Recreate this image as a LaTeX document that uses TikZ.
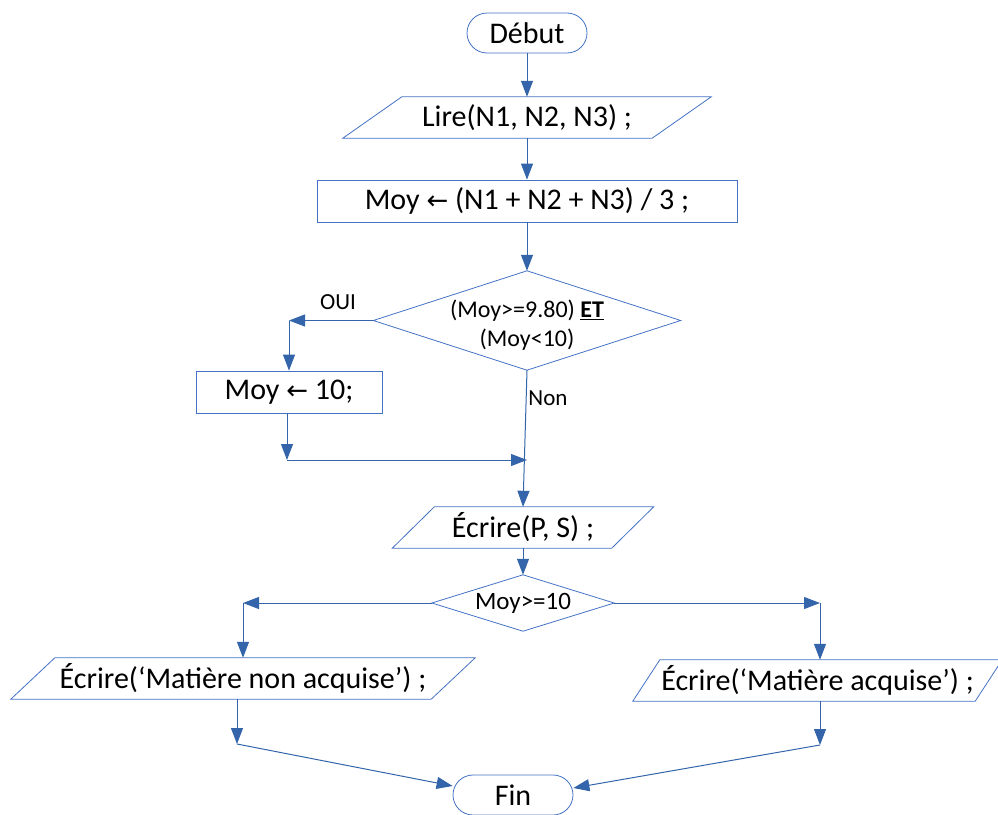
\documentclass[tikz,border=0pt]{standalone}
\usepackage{fontspec}
\setmainfont{Carlito}
\newfontfamily\arrowfont{DejaVu Sans}
\usetikzlibrary{arrows.meta}
\definecolor{ln}{RGB}{68,114,196}
\definecolor{ar}{RGB}{52,101,170}
\newcommand{\assignarrow}{{\arrowfont\fontsize{26}{30}\selectfont ←}}
\begin{document}
\begin{tikzpicture}[x=1pt,y=-1pt,
  outline/.style={draw=ln, line width=0.8pt},
  bigtxt/.style={inner sep=0pt, font=\fontsize{30}{34}\selectfont},
  midtxt/.style={inner sep=0pt, font=\fontsize{25}{29}\selectfont},
  smalltxt/.style={inner sep=0pt, font=\fontsize{23}{27}\selectfont},
  term/.style={bigtxt, outline, rounded corners=20pt, minimum width=120pt, minimum height=40pt},
  proc/.style={bigtxt, outline},
  conn/.style={draw=ar, line width=1pt, -{Triangle[length=16pt,width=12pt]}},
  plainline/.style={draw=ar, line width=1pt}]
\useasboundingbox (0,0) rectangle (998,814);

% nodes
\node[term] (deb) at (527,33) {Début};
\node[bigtxt, minimum width=368pt, minimum height=41pt] (lire) at (527,117.5) {Lire(N1, N2, N3) ;};
\draw[outline] ([xshift=59pt]lire.north west) -- (lire.north east) -- ([xshift=-59pt]lire.south east) -- (lire.south west) -- cycle;
\node[proc, minimum width=420pt, minimum height=42pt] (moy) at (527,201) {Moy \assignarrow{} (N1 + N2 + N3) / 3 ;};
\node[inner sep=0pt, minimum width=307pt, minimum height=99pt] (d1) at (527,320.5) {};
\draw[outline] (d1.north) -- (d1.east) -- (d1.south) -- (d1.west) -- cycle;
\node[inner sep=0pt, font=\fontsize{24}{29}\selectfont, align=center] (d1txt) at (527,325) {(Moy>=9.80) \underline{\textbf{ET}}\\(Moy<10)};
\node[proc, minimum width=186pt, minimum height=42pt] (b10) at (289,392) {Moy \assignarrow{} 10;};
\node[bigtxt, minimum width=261pt, minimum height=41pt] (eps) at (523,527.5) {Écrire(P, S) ;};
\draw[outline] ([xshift=42pt]eps.north west) -- (eps.north east) -- ([xshift=-42pt]eps.south east) -- (eps.south west) -- cycle;
\node[midtxt, minimum width=182pt, minimum height=56pt] (d2) at (523,603) {Moy>=10};
\draw[outline] (d2.north) -- (d2.east) -- (d2.south) -- (d2.west) -- cycle;
\node[bigtxt, minimum width=464pt, minimum height=41pt] (enon) at (243,678.5) {Écrire(‘Matière non acquise’) ;};
\draw[outline] ([xshift=44pt]enon.north west) -- (enon.north east) -- ([xshift=-44pt]enon.south east) -- (enon.south west) -- cycle;
\node[bigtxt, minimum width=369pt, minimum height=41pt] (eacq) at (817.5,680.5) {Écrire(‘Matière acquise’) ;};
\draw[outline] ([xshift=27pt]eacq.north west) -- (eacq.north east) -- ([xshift=-27pt]eacq.south east) -- (eacq.south west) -- cycle;
\node[term] (fin) at (513,795) {Fin};

\node[smalltxt] (oui) at (338,302) {OUI};
\node[smalltxt] (non) at (548,398) {Non};

% helper coordinates
\coordinate (c1) at (b10.north |- d1.west);
\coordinate (c2) at (287,460);
\coordinate (c3) at (d1.south |- c2);
\coordinate (c4) at (enon.north |- d2.west);
\coordinate (c5) at (237,744);
\coordinate (c6) at (820,603);
\coordinate (c7) at (820,745);

% connectors
\draw[conn] (deb.south) -- (lire.north);
\draw[conn] (lire.south) -- (moy.north);
\draw[conn] (moy.south) -- (d1.north);
\draw[conn] (d1.west) -- (c1);
\draw[conn] (c1) -- (b10.north);
\draw[conn] (b10.south -| c2) -- (c2);
\draw[conn] (c2) -- (c3);
\draw[conn] (d1.south) -- (eps.north);
\draw[conn] (eps.south) -- (d2.north);
\draw[conn] (d2.west) -- (c4);
\draw[conn] (c4) -- (enon.north);
\draw[conn] (enon.south -| c5) -- (c5);
\draw[conn] (c5) -- ([yshift=9pt]fin.west);
\draw[conn] (d2.east) -- (c6);
\draw[conn] (c6) -- (eacq.north -| c6);
\draw[conn] (eacq.south -| c7) -- (c7);
\draw[conn] (c7) -- ([yshift=7pt]fin.east);
\end{tikzpicture}
\end{document}
